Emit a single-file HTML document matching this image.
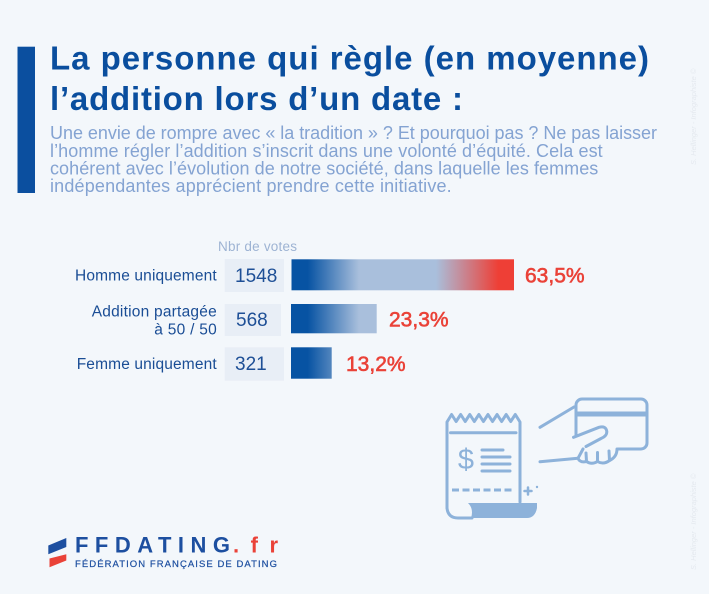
<!DOCTYPE html>
<html><head><meta charset="utf-8">
<style>
html,body{margin:0;padding:0;background:#f3f7fb;}
svg{display:block;}
text{font-family:"Liberation Sans",Arial,sans-serif;}
</style></head>
<body>
<svg width="709" height="594" viewBox="0 0 709 594" xmlns="http://www.w3.org/2000/svg">
<defs>
<linearGradient id="g" gradientUnits="userSpaceOnUse" x1="291" y1="0" x2="514" y2="0">
<stop offset="0" stop-color="#0753a3"/>
<stop offset="0.075" stop-color="#0753a3"/>
<stop offset="0.305" stop-color="#a9bfdc"/>
<stop offset="0.65" stop-color="#a9bfdc"/>
<stop offset="0.93" stop-color="#ee3f36"/>
<stop offset="1" stop-color="#ee3f36"/>
</linearGradient>
</defs>
<rect width="709" height="594" fill="#f3f7fb"/>

<!-- title bar -->
<rect x="17.5" y="46.7" width="17.5" height="146.3" fill="#0b4f9f"/>

<!-- title -->
<text x="50" y="69.3" font-size="33" font-weight="bold" fill="#0a4e9e" textLength="599" lengthAdjust="spacing">La personne qui règle (en moyenne)</text>
<text x="50" y="110" font-size="33" font-weight="bold" fill="#0a4e9e" textLength="413" lengthAdjust="spacing">l’addition lors d’un date :</text>

<!-- subtitle -->
<g font-size="18" fill="#84a3d2">
<text x="50" y="139" textLength="607" lengthAdjust="spacing">Une envie de rompre avec « la tradition » ? Et pourquoi pas ? Ne pas laisser</text>
<text x="50" y="157" textLength="552.7" lengthAdjust="spacing">l’homme régler l’addition s’inscrit dans une volonté d’équité. Cela est</text>
<text x="50" y="174.5" textLength="548.3" lengthAdjust="spacing">cohérent avec l’évolution de notre société, dans laquelle les femmes</text>
<text x="50" y="192" textLength="401.7" lengthAdjust="spacing">indépendantes apprécient prendre cette initiative.</text>
</g>

<!-- watermarks -->
<g font-size="7.5" font-style="italic" fill="#e4e9ef">
<text transform="translate(696,165) rotate(-90)">S. Hellinger - Infographiste ©</text>
<text transform="translate(696,570) rotate(-90)">S. Hellinger - Infographiste ©</text>
</g>

<!-- chart header -->
<text x="218" y="250.8" font-size="13.5" fill="#9db3d3" textLength="79" lengthAdjust="spacing">Nbr de votes</text>

<!-- labels -->
<g font-size="15.5" fill="#1a4d95">
<text x="75" y="280.6" textLength="141.7" lengthAdjust="spacing">Homme uniquement</text>
<text x="91.7" y="316.5" textLength="125" lengthAdjust="spacing">Addition partagée</text>
<text x="154.3" y="334.5" textLength="62.4" lengthAdjust="spacing">à 50 / 50</text>
<text x="76.7" y="368.8" textLength="140" lengthAdjust="spacing">Femme uniquement</text>
</g>

<!-- number boxes -->
<rect x="224.7" y="259" width="59.3" height="33" fill="#e8eef6"/>
<rect x="224.7" y="304" width="56.3" height="32" fill="#e8eef6"/>
<rect x="224.7" y="347.3" width="59.3" height="33.4" fill="#e8eef6"/>
<g font-size="19" fill="#1e4f96">
<text x="235" y="282.2">1548</text>
<text x="236" y="326">568</text>
<text x="235" y="370">321</text>
</g>

<!-- bars -->
<rect x="291.5" y="259.3" width="222.5" height="31" fill="url(#g)"/>
<rect x="291" y="304" width="85.7" height="29.3" fill="url(#g)"/>
<rect x="291" y="347.3" width="40.7" height="31.4" fill="url(#g)"/>

<!-- percents -->
<g font-size="21" fill="#ea4238" stroke="#ea4238" stroke-width="0.6">
<text x="525" y="282.5">63,5%</text>
<text x="389" y="326.6">23,3%</text>
<text x="346" y="370.8">13,2%</text>
</g>

<!-- icon -->
<g stroke="#8db2da" stroke-width="3" fill="none" stroke-linecap="round" stroke-linejoin="round">
<path d="M447,508 L447,422 L451.6,414.5 L456.1,421.5 L460.7,414.5 L465.2,421.5 L469.8,414.5 L474.3,421.5 L478.9,414.5 L483.4,421.5 L488,414.5 L492.5,421.5 L497.1,414.5 L501.6,421.5 L506.2,414.5 L510.7,421.5 L515.3,414.5 L520,422 L520,502"/>
<path d="M447,508 Q448,518 458,518 L472,518"/>
<path d="M450.5,432.7 L516,432.7"/>
<path d="M482,450 H503 M482,457 H510 M482,464 H510 M482,471 H510"/>
<path d="M452,490 H515" stroke-dasharray="7 3.5" stroke-linecap="butt"/>
<path d="M524.5,491 H531.5 M528,487.5 V494.5" stroke-width="2.5"/>
<!-- card -->
<rect x="576" y="399" width="71" height="50" rx="6"/>
<path d="M540,427.3 L574,407"/>
</g>
<text x="466" y="469" font-size="29" fill="#8db2da" text-anchor="middle">$</text>
<circle cx="537" cy="487" r="1.2" fill="#8db2da"/>
<rect x="577" y="411.5" width="69" height="5" fill="#8db2da"/>
<path d="M468,503 L537,503 L537,508 Q535,518 527,518 L471,518 Q474,509 468,503 Z" fill="#8db2da"/>
<!-- hand occluder -->
<path d="M574.5,438 L600,427 L609,431 L618,449 L618,463 L577,463 L574.5,450 Z" fill="#f3f7fb"/>
<g stroke="#8db2da" stroke-width="3" fill="none" stroke-linecap="round" stroke-linejoin="round">
<path d="M573.5,437.3 L599,427.3 Q606,425.5 606.8,431.5 Q607,436 601,438.5 L586,446.5"/>
<path d="M540,461.7 L578,458.3 Q580,463 586.5,461.5 Q591.5,465 597.5,461.5 Q603.5,465 609.5,460.5 Q617,457 617,449"/>
<path d="M586.5,461.5 L586,453 M597.5,461.5 L597.5,452.5 M609.5,460.5 L609,451"/>
<path d="M578,458.3 L583,449"/>
</g>

<!-- logo -->
<polygon points="48.3,545.5 66.3,538 66.3,547 48.3,554.3" fill="#1d4fa0"/>
<polygon points="49.5,558.5 66.3,554.3 66.3,560.5 49.5,567.3" fill="#ea4238"/>
<text x="75" y="552.5" font-size="22" font-weight="bold" fill="#1d4fa0" textLength="155" lengthAdjust="spacing">FFDATING</text>
<text x="233" y="552.5" font-size="22" font-weight="bold" fill="#ea4238" textLength="45" lengthAdjust="spacing">.fr</text>
<text x="75" y="567.2" font-size="9.5" fill="#1d4fa0" stroke="#1d4fa0" stroke-width="0.2" textLength="202" lengthAdjust="spacing">FÉDÉRATION FRANÇAISE DE DATING</text>
</svg>
</body></html>
